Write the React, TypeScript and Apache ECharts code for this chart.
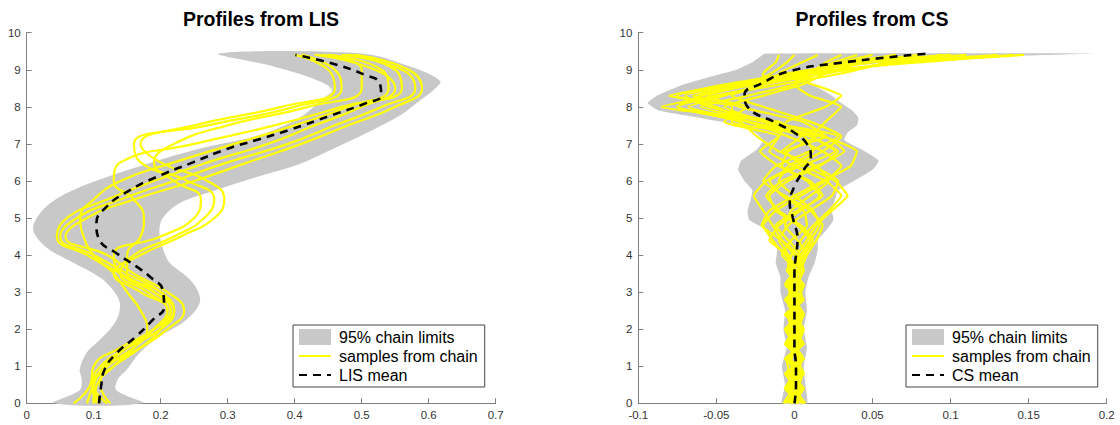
import React, { useEffect, useRef } from "react";
import * as echarts from "echarts";

// ---------- LIS (left panel) ----------
const LIS_Y = [0, 0.5, 1, 1.5, 2, 2.5, 3, 3.5, 4, 4.5, 5, 5.5, 6, 6.5, 7, 7.5, 8, 8.5, 9, 9.4];
const lisSamples = [
  [0.070, 0.095, 0.100, 0.140, 0.190, 0.215, 0.190, 0.140, 0.090, 0.045, 0.060, 0.120, 0.190, 0.270, 0.360, 0.430, 0.500, 0.550, 0.520, 0.430],
  [0.105, 0.098, 0.110, 0.150, 0.200, 0.220, 0.200, 0.150, 0.100, 0.050, 0.075, 0.140, 0.220, 0.300, 0.390, 0.460, 0.530, 0.580, 0.560, 0.470],
  [0.120, 0.100, 0.120, 0.170, 0.210, 0.235, 0.210, 0.160, 0.120, 0.058, 0.090, 0.160, 0.250, 0.330, 0.410, 0.480, 0.550, 0.590, 0.570, 0.490],
  [0.100, 0.100, 0.130, 0.170, 0.200, 0.210, 0.170, 0.130, 0.170, 0.230, 0.280, 0.295, 0.270, 0.200, 0.170, 0.250, 0.380, 0.460, 0.450, 0.400],
  [0.110, 0.100, 0.120, 0.160, 0.190, 0.210, 0.180, 0.140, 0.160, 0.220, 0.265, 0.280, 0.240, 0.170, 0.160, 0.270, 0.400, 0.470, 0.460, 0.410],
  [0.100, 0.105, 0.130, 0.160, 0.180, 0.170, 0.150, 0.130, 0.100, 0.085, 0.080, 0.100, 0.140, 0.220, 0.310, 0.400, 0.480, 0.540, 0.530, 0.450],
  [0.125, 0.110, 0.120, 0.150, 0.190, 0.220, 0.200, 0.150, 0.150, 0.170, 0.175, 0.160, 0.130, 0.140, 0.250, 0.370, 0.470, 0.560, 0.550, 0.480],
  [0.090, 0.100, 0.115, 0.150, 0.200, 0.220, 0.190, 0.140, 0.130, 0.200, 0.250, 0.260, 0.220, 0.190, 0.220, 0.300, 0.420, 0.500, 0.500, 0.440],
];
const lisMeanY = [0, 0.45, 0.9, 1.35, 1.8, 2.25, 2.6, 3.05, 3.4, 3.7, 4.05, 4.4, 4.85, 5.3, 5.75, 6.1, 6.5, 6.85, 7.1, 7.37, 7.78, 8.09, 8.32, 8.63, 8.86, 9.17, 9.4];
const lisMeanX = [0.108, 0.111, 0.116, 0.134, 0.163, 0.188, 0.205, 0.203, 0.185, 0.163, 0.134, 0.109, 0.104, 0.119, 0.154, 0.193, 0.248, 0.297, 0.342, 0.391, 0.456, 0.505, 0.529, 0.527, 0.505, 0.456, 0.401];
const lisBandY = [0, 0.35, 0.65, 0.9, 1.35, 1.8, 2.25, 2.7, 3.05, 3.4, 3.8, 4.2, 4.65, 5.0, 5.4, 5.75, 6.1, 6.45, 6.85, 7.2, 7.5, 7.8, 8.2, 8.45, 8.7, 9.1, 9.44];
const lisBandLo = [0.040, 0.079, 0.082, 0.079, 0.089, 0.114, 0.134, 0.139, 0.129, 0.109, 0.069, 0.030, 0.010, 0.015, 0.035, 0.069, 0.119, 0.178, 0.253, 0.340, 0.385, 0.415, 0.440, 0.456, 0.436, 0.366, 0.287];
const lisBandHi = [0.173, 0.134, 0.136, 0.149, 0.168, 0.198, 0.238, 0.258, 0.255, 0.240, 0.213, 0.203, 0.198, 0.203, 0.228, 0.282, 0.342, 0.406, 0.455, 0.497, 0.530, 0.560, 0.589, 0.607, 0.617, 0.570, 0.500];

// ---------- CS (right panel) ----------
const CS_Y = [0, 0.4, 0.8, 1.2, 1.6, 2.0, 2.4, 2.8, 3.2, 3.6, 4.0, 4.4, 4.8, 5.2, 5.6, 6.0, 6.4, 6.8, 7.2, 7.6, 8.0, 8.3, 8.6, 8.9, 9.2, 9.4];
const csSamples = [
  [0.002, -0.003, 0.004, -0.002, 0.003, -0.004, 0.002, -0.003, 0.005, -0.002, 0.004, 0.010, 0.016, 0.012, 0.000, -0.010, -0.004, 0.012, 0.006, -0.030, -0.075, -0.060, -0.030, 0.010, 0.070, 0.147],
  [-0.004, 0.003, -0.002, 0.005, -0.003, 0.002, -0.005, 0.004, -0.003, 0.004, -0.006, -0.014, -0.020, -0.012, 0.004, 0.020, 0.030, 0.018, -0.004, -0.030, -0.068, -0.045, -0.020, 0.020, 0.065, 0.130],
  [0.005, -0.002, 0.003, -0.004, 0.002, 0.004, -0.002, 0.003, -0.005, 0.002, 0.006, 0.012, 0.004, -0.010, -0.018, -0.008, 0.014, 0.032, 0.020, -0.015, -0.055, -0.070, -0.035, 0.000, 0.050, 0.110],
  [-0.002, 0.004, -0.004, 0.002, -0.005, 0.003, 0.005, -0.004, 0.002, -0.004, -0.004, -0.010, -0.004, 0.010, 0.024, 0.028, 0.012, -0.008, 0.004, -0.010, -0.085, -0.050, -0.010, 0.030, 0.060, 0.095],
  [0.007, 0.000, -0.005, 0.004, 0.001, -0.003, 0.003, -0.006, 0.004, 0.003, 0.002, -0.008, -0.021, -0.016, 0.000, 0.018, 0.036, 0.040, 0.018, -0.040, -0.040, -0.080, -0.040, -0.005, 0.040, 0.080],
  [-0.006, 0.002, 0.005, -0.003, 0.004, -0.002, -0.004, 0.006, -0.002, 0.004, 0.008, 0.014, 0.018, 0.010, -0.006, -0.020, -0.012, 0.010, 0.028, -0.020, -0.060, -0.030, 0.000, 0.015, 0.035, 0.065],
  [0.003, -0.005, 0.002, 0.003, -0.004, 0.005, -0.003, 0.002, 0.006, -0.004, -0.002, 0.004, 0.012, 0.022, 0.030, 0.020, 0.000, -0.016, -0.010, -0.045, -0.030, -0.065, -0.025, 0.005, 0.030, 0.050],
  [-0.003, 0.006, -0.003, -0.005, 0.005, -0.001, 0.004, -0.002, -0.004, 0.005, 0.000, -0.008, -0.014, -0.020, -0.026, -0.018, 0.000, 0.018, 0.030, 0.010, -0.020, -0.040, -0.020, 0.010, 0.025, 0.040],
  [0.000, -0.004, 0.006, 0.001, -0.002, 0.003, -0.006, 0.005, 0.003, -0.005, 0.006, 0.010, 0.002, -0.012, -0.016, -0.004, 0.016, 0.028, 0.012, 0.020, 0.030, 0.010, 0.000, 0.010, 0.020, 0.030],
  [0.004, 0.002, -0.006, 0.006, -0.001, -0.005, 0.001, 0.003, -0.006, 0.000, -0.004, -0.016, -0.010, 0.004, 0.016, 0.008, -0.010, -0.022, -0.010, -0.005, 0.020, 0.030, 0.012, -0.010, 0.005, 0.015],
  [-0.007, -0.001, 0.004, -0.006, 0.006, 0.000, 0.005, -0.005, 0.001, 0.006, 0.002, 0.008, 0.014, 0.024, 0.034, 0.026, 0.006, -0.006, 0.020, 0.005, -0.035, -0.055, -0.030, -0.015, -0.005, 0.000],
  [0.001, 0.005, -0.001, -0.002, 0.002, 0.006, -0.001, -0.005, 0.004, -0.003, 0.008, 0.002, -0.006, -0.002, 0.010, 0.022, 0.014, -0.010, -0.024, -0.035, -0.075, -0.050, -0.020, -0.020, -0.012, -0.010],
  [-0.001, 0.001, 0.002, 0.005, -0.006, 0.001, 0.006, 0.000, -0.001, 0.001, -0.008, -0.002, 0.008, 0.006, -0.008, -0.016, 0.004, 0.026, 0.010, -0.020, -0.045, -0.020, 0.005, 0.020, 0.045, 0.100],
  [0.006, -0.006, 0.000, 0.002, 0.000, -0.006, 0.004, 0.001, -0.003, -0.001, 0.004, -0.004, -0.012, 0.002, 0.018, 0.010, -0.008, -0.004, 0.014, -0.030, -0.050, -0.075, -0.045, 0.000, 0.080, 0.140],
];
const csMeanY = [0, 0.5, 1, 1.5, 2, 2.5, 3, 3.5, 4, 4.4, 5.0, 5.4, 5.85, 6.3, 6.65, 7.0, 7.3, 7.55, 8.0, 8.32, 8.63, 8.95, 9.17, 9.44];
const csMeanX = [0.000, 0.001, 0.001, 0.000, 0.000, 0.000, 0.000, 0.000, 0.001, 0.002, -0.001, -0.003, 0.000, 0.006, 0.0105, 0.008, 0.000, -0.011, -0.030, -0.032, -0.021, -0.004, 0.026, 0.086];
const csBandY = [0, 0.5, 1.0, 1.5, 2.0, 2.5, 3.0, 3.4, 3.8, 4.15, 4.4, 4.7, 4.95, 5.2, 5.5, 5.75, 6.0, 6.3, 6.55, 6.85, 7.1, 7.3, 7.5, 7.7, 7.9, 8.1, 8.3, 8.6, 8.8, 9.0, 9.2, 9.35, 9.44];
const csBandLo = [-0.008, -0.006, -0.008, -0.005, -0.007, -0.006, -0.009, -0.009, -0.012, -0.011, -0.015, -0.019, -0.029, -0.030, -0.028, -0.027, -0.032, -0.036, -0.034, -0.024, -0.020, -0.025, -0.035, -0.060, -0.087, -0.094, -0.088, -0.071, -0.055, -0.037, -0.027, -0.022, -0.019];
const csBandHi = [0.008, 0.007, 0.006, 0.008, 0.006, 0.008, 0.007, 0.009, 0.013, 0.015, 0.015, 0.021, 0.025, 0.024, 0.026, 0.028, 0.038, 0.050, 0.054, 0.043, 0.032, 0.034, 0.040, 0.041, 0.037, 0.030, 0.024, 0.012, 0.008, 0.020, 0.060, 0.120, 0.193];

// ---------- labels ----------
const titles = ["Profiles from LIS", "Profiles from CS"];
const BAND_NAME = "95% chain limits";
const SAMPLE_NAME = "samples from chain";
const meanNames = ["LIS mean", "CS mean"];

const BAND = "#c8c8c8";
const YELLOW = "#ffff00";
const AXIS = "#808080";
const LABEL = "#333333";
const FONT = "'Liberation Sans', Arial, Helvetica, sans-serif";

function pairs(xs: number[], ys: number[]) {
  return xs.map((x, i) => [x, ys[i]]);
}

function bandSeries(idx: number, ys: number[], lo: number[], hi: number[], smooth: number) {
  return {
    type: "custom",
    name: BAND_NAME,
    coordinateSystem: "cartesian2d",
    xAxisIndex: idx,
    yAxisIndex: idx,
    silent: true,
    z: 1,
    itemStyle: { color: BAND },
    data: [[lo[0], ys[0]]],
    renderItem: (_p: any, api: any) => {
      const pts: number[][] = [];
      for (let i = 0; i < ys.length; i++) pts.push(api.coord([lo[i], ys[i]]));
      for (let i = ys.length - 1; i >= 0; i--) pts.push(api.coord([hi[i], ys[i]]));
      return { type: "polygon", shape: { points: pts, smooth }, style: { fill: BAND } };
    },
  };
}

function sampleSeries(idx: number, xs: number[], ys: number[], smooth: boolean | number) {
  return {
    type: "line",
    name: SAMPLE_NAME,
    xAxisIndex: idx,
    yAxisIndex: idx,
    data: pairs(xs, ys),
    smooth,
    symbol: "none",
    silent: true,
    z: 2,
    lineStyle: { color: YELLOW, width: 2.2 },
    itemStyle: { color: YELLOW },
  };
}

function meanSeries(idx: number, xs: number[], ys: number[]) {
  return {
    type: "line",
    name: meanNames[idx],
    xAxisIndex: idx,
    yAxisIndex: idx,
    data: pairs(xs, ys),
    smooth: true,
    symbol: "none",
    silent: true,
    z: 3,
    lineStyle: { color: "#000", width: 2.6, type: [8, 6] },
    itemStyle: { color: "#000" },
  };
}

const fmt = (v: number) => String(+v.toFixed(2));

function xAxis(idx: number, min: number, max: number, interval: number) {
  return {
    type: "value",
    gridIndex: idx,
    min,
    max,
    interval,
    axisLine: { show: true, onZero: false, lineStyle: { color: AXIS, width: 1 } },
    axisTick: { show: true, inside: true, length: 5, lineStyle: { color: AXIS } },
    axisLabel: { color: LABEL, fontSize: 11.5, fontFamily: FONT, margin: 6, formatter: fmt, showMinLabel: true, showMaxLabel: true },
    splitLine: { show: false },
  };
}

function yAxis(idx: number) {
  return {
    type: "value",
    gridIndex: idx,
    min: 0,
    max: 10,
    interval: 1,
    axisLine: { show: true, onZero: false, lineStyle: { color: AXIS, width: 1 } },
    axisTick: { show: true, inside: true, length: 5, lineStyle: { color: AXIS } },
    axisLabel: { color: LABEL, fontSize: 11.5, fontFamily: FONT, margin: 6, showMinLabel: true, showMaxLabel: true },
    splitLine: { show: false },
  };
}

function legend(idx: number, left: number) {
  return {
    orient: "vertical",
    left,
    top: 325,
    padding: [4, 7, 4, 5],
    itemGap: 3,
    itemWidth: 32,
    itemHeight: 16,
    selectedMode: false,
    backgroundColor: "#fff",
    borderColor: "#444",
    borderWidth: 1,
    borderRadius: 0,
    textStyle: { fontSize: 16, fontFamily: FONT, color: "#000", padding: [0, 0, 0, 3] },
    data: [
      { name: BAND_NAME, icon: "rect", itemStyle: { color: BAND } },
      { name: SAMPLE_NAME, itemStyle: { opacity: 0 } },
      { name: meanNames[idx], itemStyle: { opacity: 0 } },
    ],
    z: 10,
  };
}

export default function App() {
  const ref = useRef<HTMLDivElement>(null);
  useEffect(() => {
    if (!ref.current) return;
    const chart = echarts.init(ref.current, undefined, { renderer: "svg" });
    const series: any[] = [];
    series.push(bandSeries(0, lisBandY, lisBandLo, lisBandHi, 0.35));
    lisSamples.forEach((s) => series.push(sampleSeries(0, s, LIS_Y, true)));
    series.push(meanSeries(0, lisMeanX, lisMeanY));
    series.push(bandSeries(1, csBandY, csBandLo, csBandHi, 0.15));
    csSamples.forEach((s) => series.push(sampleSeries(1, s, CS_Y, 0.15)));
    series.push(meanSeries(1, csMeanX, csMeanY));

    chart.setOption({
      animation: false,
      backgroundColor: "#fff",
      textStyle: { fontFamily: FONT },
      title: [
        { text: titles[0], left: 261, top: 9, padding: 0, textAlign: "center", textStyle: { fontSize: 19.5, fontWeight: "bold", color: "#000", fontFamily: FONT } },
        { text: titles[1], left: 872, top: 9, padding: 0, textAlign: "center", textStyle: { fontSize: 19.5, fontWeight: "bold", color: "#000", fontFamily: FONT } },
      ],
      grid: [
        { left: 26.7, top: 32.7, width: 469, height: 370.6, containLabel: false },
        { left: 638.3, top: 32.7, width: 468.4, height: 370.6, containLabel: false },
      ],
      xAxis: [xAxis(0, 0, 0.7, 0.1), xAxis(1, -0.1, 0.2, 0.05)],
      yAxis: [yAxis(0), yAxis(1)],
      legend: [legend(0, 293), legend(1, 906)],
      series,
    });
    return () => chart.dispose();
  }, []);
  return <div ref={ref} style={{ position: "absolute", left: 0, top: 0, width: 1120, height: 425 }} />;
}
